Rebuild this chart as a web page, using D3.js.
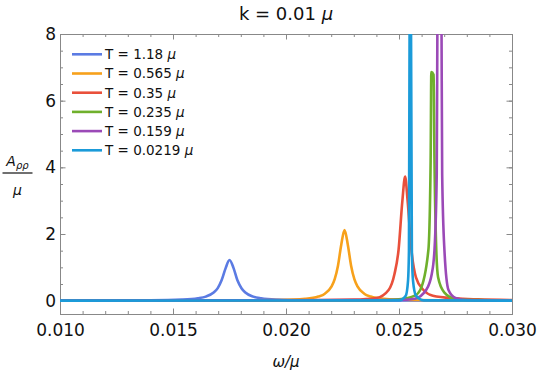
<!DOCTYPE html>
<html>
<head>
<meta charset="utf-8">
<title>k = 0.01 mu</title>
<script src="https://cdn.jsdelivr.net/npm/d3@7"></script>
<style>
  body { margin: 0; background: #fff; }
  text { font-family: "DejaVu Sans", sans-serif; fill: #111; }
  .frame path.domain { stroke: #888; }
  .frame .tick line { stroke: #888; }
  .series { fill: none; stroke-width: 2.6; stroke-linejoin: round; }
</style>
</head>
<body>
<div id="chart"></div>
<script>
  // temperatures (in units of mu), legend order
  var temps = ['1.18', '0.565', '0.35', '0.235', '0.159', '0.0219'];
  var colors = ['#5b7be3', '#f7a11b', '#e9503b', '#6fb02c', '#9b4ab7', '#1b9bd9'];

  // [omega/mu, A_rho_rho/mu]
  var curveT118 = [[0.010,0],[0.0105,0.003],[0.0140,0.012],[0.0154,0.033],[0.0161,0.072],
    [0.01645,0.122],[0.0168,0.244],[0.01698,0.375],[0.01715,0.61],[0.01733,0.976],[0.0175,1.22],
    [0.01768,0.976],[0.01785,0.61],[0.01803,0.375],[0.0182,0.244],[0.01855,0.122],[0.0189,0.072],
    [0.0196,0.033],[0.0210,0.012],[0.0245,0.003],[0.030,0.001]];
  var curveT0565 = [[0.010,0],[0.0168,0.005],[0.0197,0.021],[0.02085,0.057],[0.02143,0.124],
    [0.02172,0.21],[0.02201,0.42],[0.022155,0.646],[0.0223,1.05],[0.022445,1.68],[0.02259,2.12],
    [0.022735,1.68],[0.02288,1.05],[0.023025,0.646],[0.02317,0.42],[0.02346,0.21],[0.02375,0.124],
    [0.02433,0.057],[0.02549,0.021],[0.0284,0.005],[0.030,0.003]];
  var curveT035 = [[0.010,0],[0.0200,0.01],[0.0230,0.03],[0.0240,0.08],[0.02454,0.32],
    [0.02480,0.8],[0.02498,1.52],[0.02515,3.0],[0.02527,3.72],[0.02538,3.0],[0.02555,1.52],
    [0.02575,0.7],[0.02608,0.32],[0.0265,0.15],[0.0275,0.07],[0.0285,0.04],[0.030,0.02]];
  var curveT0235 = [[0.010,0],[0.0240,0.01],[0.0250,0.04],[0.0257,0.15],[0.02594,0.32],
    [0.02630,1.52],[0.02640,4.2],[0.02643,6.86],[0.02653,6.78],[0.02657,4.2],[0.02665,1.52],
    [0.02673,0.7],[0.02700,0.25],[0.02748,0.06],[0.0285,0.015],[0.030,0.005]];
  var curveT0159 = [[0.010,0],[0.0250,0.02],[0.0257,0.06],[0.0262,0.32],[0.02645,0.8],
    [0.02657,1.52],[0.02667,3.8],[0.02670,8.5],[0.02679,20],[0.02688,8.5],[0.02691,3.8],
    [0.02701,1.52],[0.02719,0.32],[0.0275,0.08],[0.0280,0.02],[0.030,0.005]];
  var curveT00219 = [[0.010,0],[0.0250,0.01],[0.02530,0.15],[0.02540,0.6],[0.02544,1.5],
    [0.02547,8.5],[0.02550,30],[0.02553,8.5],[0.02557,1.5],[0.02562,0.6],[0.02575,0.15],
    [0.0261,0.01],[0.030,0]];

  var curves = [curveT118, curveT0565, curveT035, curveT0235, curveT0159, curveT00219];

  var xTicks = [0.010, 0.015, 0.020, 0.025, 0.030];
  var yTicks = [0, 2, 4, 6, 8];

  var width = 540, height = 372;
  var margin = {top: 34, right: 28, bottom: 58, left: 60};
  var w = width - margin.left - margin.right;
  var h = height - margin.top - margin.bottom;

  var x = d3.scaleLinear().domain([0.010, 0.030]).range([0, w]);
  var y = d3.scaleLinear().domain([-0.4, 8]).range([h, 0]);

  var svg = d3.select('#chart').append('svg')
    .attr('width', width).attr('height', height);

  var g = svg.append('g')
    .attr('transform', 'translate(' + margin.left + ',' + margin.top + ')');

  g.append('clipPath').attr('id', 'plotclip')
    .append('rect').attr('width', w).attr('height', h);

  // minor ticks
  var xMinor = d3.range(0.010, 0.0305, 0.001);
  var yMinor = d3.range(0, 8.01, 0.5);

  function frameAxis(axis, transform) {
    var a = g.append('g').attr('class', 'frame');
    if (transform) a.attr('transform', transform);
    a.call(axis);
    return a;
  }

  // bottom
  frameAxis(d3.axisBottom(x).tickValues(xMinor).tickSize(-3).tickFormat(''), 'translate(0,' + h + ')');
  var xa = frameAxis(d3.axisBottom(x).tickValues(xTicks).tickSize(-5.5).tickPadding(10)
    .tickFormat(d3.format('.3f')), 'translate(0,' + h + ')');
  xa.selectAll('text').style('font-size', '17px');
  // top
  frameAxis(d3.axisTop(x).tickValues(xMinor).tickSize(-3).tickFormat(''));
  frameAxis(d3.axisTop(x).tickValues(xTicks).tickSize(-5.5).tickFormat(''));
  // left
  frameAxis(d3.axisLeft(y).tickValues(yMinor).tickSize(-3).tickFormat(''));
  var ya = frameAxis(d3.axisLeft(y).tickValues(yTicks).tickSize(-5.5).tickPadding(4)
    .tickFormat(d3.format('d')));
  ya.selectAll('text').style('font-size', '17px');
  // right
  frameAxis(d3.axisRight(y).tickValues(yMinor).tickSize(-3).tickFormat(''), 'translate(' + w + ',0)');
  frameAxis(d3.axisRight(y).tickValues(yTicks).tickSize(-5.5).tickFormat(''), 'translate(' + w + ',0)');

  g.selectAll('.frame path.domain').attr('stroke', '#888');

  var line = d3.line()
    .x(function(d) { return x(d[0]); })
    .y(function(d) { return y(d[1]); })
    .curve(d3.curveMonotoneX);

  g.append('g').attr('clip-path', 'url(#plotclip)')
    .selectAll('path')
    .data(curves)
    .enter().append('path')
    .attr('class', 'series')
    .attr('stroke', function(d, i) { return colors[i]; })
    .attr('d', line);

  // legend
  var legend = g.selectAll('.legend')
    .data(temps)
    .enter().append('g')
    .attr('class', 'legend')
    .attr('transform', function(d, i) {
      return 'translate(12,' + (20.3 + i * 19.2) + ')';
    });

  legend.append('line')
    .attr('x1', 0).attr('x2', 30)
    .attr('stroke', function(d, i) { return colors[i]; })
    .attr('stroke-width', 2.6);

  var lt = legend.append('text')
    .attr('x', 33).attr('dy', '0.36em')
    .style('font-size', '13.5px');
  lt.append('tspan').text(function(d) { return 'T = ' + d + ' '; });
  lt.append('tspan').style('font-style', 'italic').text('μ');

  // title
  var title = svg.append('text')
    .attr('x', margin.left + w / 2).attr('y', 19.5)
    .attr('text-anchor', 'middle')
    .style('font-size', '18px');
  title.append('tspan').text('k = 0.01 ');
  title.append('tspan').style('font-style', 'italic').text('μ');

  // x label
  svg.append('text')
    .attr('x', margin.left + w / 2).attr('y', 367)
    .attr('text-anchor', 'middle')
    .style('font-size', '15px').style('font-style', 'italic')
    .text('ω/μ');

  // y label as fraction
  var yl = svg.append('g').attr('transform', 'translate(17.5,173)');
  var num = yl.append('text').attr('y', -7).attr('text-anchor', 'middle')
    .style('font-size', '14px').style('font-style', 'italic');
  num.append('tspan').text('A');
  num.append('tspan').attr('dy', 3).style('font-size', '10px').text('ρρ');
  yl.append('line').attr('x1', -15).attr('x2', 15)
    .attr('stroke', '#111').attr('stroke-width', 1.2);
  yl.append('text').attr('y', 22).attr('text-anchor', 'middle')
    .style('font-size', '14px').style('font-style', 'italic')
    .text('μ');
</script>
</body>
</html>
